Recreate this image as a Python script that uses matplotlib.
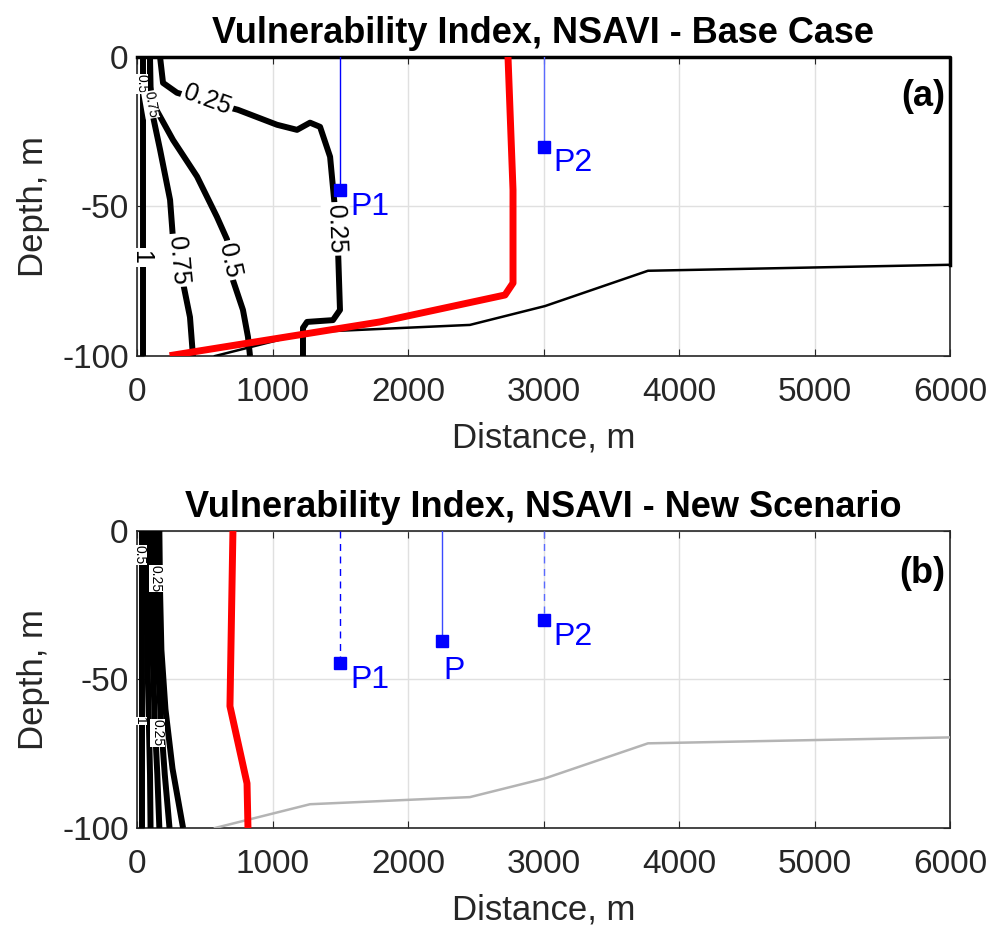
import matplotlib
matplotlib.use("Agg")
import matplotlib.pyplot as plt

plt.rcParams['font.family'] = ['Liberation Sans', 'DejaVu Sans']
plt.rcParams['axes.unicode_minus'] = False

# ---------------- data ----------------
x_ticks = [0, 1000, 2000, 3000, 4000, 5000, 6000]
y_ticks = [-100, -50, 0]

# bottom boundary (aquifer base)
base_x = [576, 1277, 2457, 3011, 3771, 6000]
base_y = [-100, -92.0, -89.6, -83.3, -71.5, -69.5]

# panel (a) contours
c025_a_x = [170, 192, 295, 520, 745, 1033, 1181, 1277, 1351, 1425, 1462, 1483, 1498, 1446, 1255, 1225, 1225]
c025_a_y = [0, -8.7, -12, -15, -17.7, -22.7, -24.4, -22, -23.4, -33.4, -51.2, -63.5, -84.6, -88, -88.6, -90.6, -100]
c050_a_x = [96, 100, 110, 266, 443, 590, 664, 708, 782, 819, 834]
c050_a_y = [0, -10, -15, -27.8, -40, -53.5, -61, -74.6, -84.6, -93.6, -100]
c075_a_x = [96, 96, 100, 170, 244, 266, 340, 391, 413]
c075_a_y = [0, -10, -16, -31, -47.8, -61, -75.6, -87, -100]
c100_a_x = [45, 45]
c100_a_y = [0, -100]

# panel (a) saltwater wedge toe (red)
red_a_x = [2738, 2775, 2775, 2716, 1793, 266]
red_a_y = [0, -44.5, -75.6, -79.6, -88.6, -99.7]

# panel (b) contours
c025_b_x = [165, 170, 180, 210, 262, 340]
c025_b_y = [0, -20, -40, -60, -80, -100]
c050_b_x = [135, 140, 155, 178, 205, 240]
c050_b_y = [0, -20, -45, -65, -82, -100]
c075_b_x = [105, 108, 118, 132, 150, 165]
c075_b_y = [0, -20, -45, -65, -82, -100]
c100_b_x = [70, 72, 78, 88, 96, 100]
c100_b_y = [0, -20, -45, -65, -82, -100]

red_b_x = [708, 686, 812, 819]
red_b_y = [0, -59, -85, -100]

# observation points
p1 = (1500, -44.5)
p2 = (3000, -30)
p_new = (2250, -37)

# ---------------- figure ----------------
fig = plt.figure(figsize=(10, 9.32), dpi=100)
ax_a = fig.add_axes([0.137, 0.618, 0.813, 0.321])
ax_b = fig.add_axes([0.137, 0.1116, 0.813, 0.3187])

tick_fs = 24
lab_fs = 25
clab_fs = 18
title_fs = 26
gray = '#262626'


def style(ax):
    ax.set_xlim(0, 6000)
    ax.set_ylim(-100, 0)
    ax.set_xticks(x_ticks)
    ax.set_yticks(y_ticks)
    ax.tick_params(direction='in', length=5, top=True, right=True,
                   labelsize=tick_fs, colors=gray)
    ax.tick_params(axis='x', pad=15)
    ax.tick_params(axis='y', pad=6)
    ax.grid(True, color='#e0e0e0', linewidth=1.0)
    ax.set_axisbelow(True)
    for s in ax.spines.values():
        s.set_color(gray)
        s.set_linewidth(1.2)
    ax.set_xlabel('Distance, m', fontsize=lab_fs, color=gray, labelpad=10)
    ax.set_ylabel('Depth, m', fontsize=lab_fs, color=gray, labelpad=9)


def clabel(ax, x, y, txt, rot, fs=clab_fs, pad=0.1):
    ax.text(x, y, txt, rotation=rot, fontsize=fs, ha='center', va='center',
            rotation_mode='anchor', zorder=6,
            bbox=dict(boxstyle='square,pad=%s' % pad, fc='white', ec='none'))


# ---------- panel (a) ----------
style(ax_a)
lw_c = 4.3
for cx, cy in [(c025_a_x, c025_a_y), (c050_a_x, c050_a_y),
               (c075_a_x, c075_a_y), (c100_a_x, c100_a_y)]:
    ax_a.plot(cx, cy, color='black', lw=lw_c, zorder=3, solid_capstyle='butt')
ax_a.plot(base_x, base_y, color='black', lw=1.8, zorder=4)
ax_a.plot([0, 6000, 6000], [0, 0, base_y[-1]], color='black', lw=2.5, zorder=4, clip_on=False)
ax_a.plot(red_a_x, red_a_y, color='red', lw=5, zorder=5)

clabel(ax_a, 520, -14.5, '0.25', -20)
clabel(ax_a, 1468, -57.5, '0.25', -88)
clabel(ax_a, 686, -68, '0.5', -78)
clabel(ax_a, 300, -68, '0.75', -85)
clabel(ax_a, 30, -67, '1', -90)
clabel(ax_a, 30, -9, '0.5', -90, fs=10, pad=0.02)
clabel(ax_a, 100, -16, '0.75', -80, fs=10, pad=0.02)

ax_a.plot([p1[0], p1[0]], [0, p1[1]], color='blue', lw=1.0, zorder=5)
ax_a.plot([p2[0], p2[0]], [0, p2[1]], color='#5a6aff', lw=1.0, zorder=5)
for (px, py), lab in [(p1, 'P1'), (p2, 'P2')]:
    ax_a.plot(px, py, 's', color='blue', ms=8.5, zorder=6)
    ax_a.annotate(lab, (px, py), xytext=(7, -12), textcoords='offset points',
                  color='blue', fontsize=23, ha='left', va='center', zorder=6)

ax_a.text(0.994, 0.866, '(a)', transform=ax_a.transAxes, fontsize=26,
          fontweight='bold', ha='right', va='center')
ax_a.set_title('Vulnerability Index, NSAVI - Base Case', fontsize=title_fs,
               fontweight='bold', pad=10)

# ---------- panel (b) ----------
style(ax_b)
for cx, cy in [(c025_b_x, c025_b_y), (c050_b_x, c050_b_y),
               (c075_b_x, c075_b_y), (c100_b_x, c100_b_y)]:
    ax_b.plot(cx, cy, color='black', lw=lw_c, zorder=3, solid_capstyle='butt')
ax_b.plot([40, 40], [0, -100], color='black', lw=lw_c, zorder=3)
ax_b.plot(base_x, base_y, color='#b4b4b4', lw=1.8, zorder=4)
ax_b.plot(red_b_x, red_b_y, color='red', lw=5, zorder=5)

for (lx, ly, t) in [(20, -8, '0.5'), (140, -16, '0.25'),
                    (20, -64, '1'), (150, -68, '0.25')]:
    clabel(ax_b, lx, ly, t, -90, fs=10, pad=0.02)

ax_b.plot([p1[0], p1[0]], [0, p1[1]], color='blue', lw=1.0, ls=(0, (5, 4)), zorder=5)
ax_b.plot([p_new[0], p_new[0]], [0, p_new[1]], color='#3a4aff', lw=1.0, zorder=5)
ax_b.plot([p2[0], p2[0]], [0, p2[1]], color='#5a6aff', lw=1.0, ls=(0, (5, 4)), zorder=5)
for (px, py), lab, off in [(p1, 'P1', (7, -12)), (p2, 'P2', (7, -12)),
                           (p_new, 'P', (1, -22))]:
    ax_b.plot(px, py, 's', color='blue', ms=8.5, zorder=6)
    ax_b.annotate(lab, (px, py), xytext=off, textcoords='offset points',
                  color='blue', fontsize=23, ha='left', va='center', zorder=6)

ax_b.text(0.994, 0.856, '(b)', transform=ax_b.transAxes, fontsize=26,
          fontweight='bold', ha='right', va='center')
ax_b.set_title('Vulnerability Index, NSAVI - New Scenario', fontsize=title_fs,
               fontweight='bold', pad=10)

fig.savefig('out.png', dpi=100, facecolor='white')
